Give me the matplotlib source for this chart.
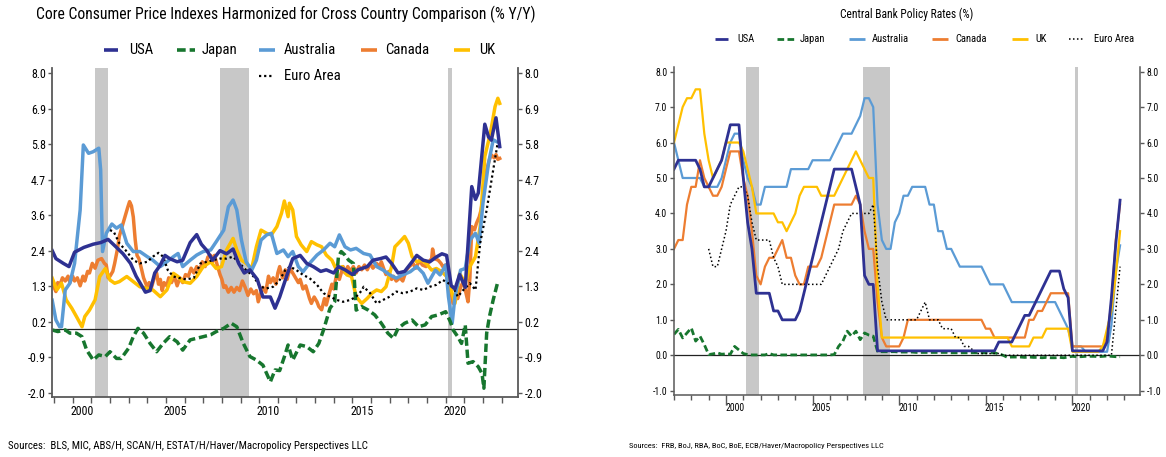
import numpy as np
import matplotlib
matplotlib.use("Agg")
import matplotlib.pyplot as plt
from matplotlib import font_manager as fm
from matplotlib.lines import Line2D
from matplotlib.ticker import FormatStrFormatter

# ====================== DATA ======================
# Left chart: core CPI, % y/y  (decimal year, value)
cpi_usa = [(1998.9,2.45),(1999.1,2.2),(1999.5,2.05),(1999.8,1.95),(2000.1,2.4),(2000.6,2.55),(2001.1,2.65),(2001.5,2.7),
    (2001.9,2.8),(2002.35,2.55),(2002.7,2.35),(2003.1,2.05),(2003.4,1.65),(2003.9,1.15),(2004.15,1.2),(2004.4,1.75),
    (2004.7,2.0),(2004.95,2.3),(2005.2,2.2),(2005.6,2.1),(2005.9,2.15),(2006.3,2.7),(2006.65,2.95),(2006.9,2.65),
    (2007.2,2.45),(2007.5,2.15),(2007.9,2.45),(2008.25,2.35),(2008.6,2.5),(2008.9,2.05),(2009.2,1.75),(2009.5,1.85),
    (2009.9,1.55),(2010.2,1.0),(2010.6,1.0),(2010.85,0.65),(2011.1,1.0),(2011.5,1.7),(2011.8,2.2),(2012.2,2.3),
    (2012.55,2.05),(2012.9,1.95),(2013.3,1.8),(2013.6,1.85),(2014.0,1.75),(2014.25,1.95),(2014.6,1.85),(2015.0,1.7),
    (2015.3,1.85),(2015.8,1.95),(2016.1,2.15),(2016.5,2.2),(2016.8,2.25),(2017.1,2.05),(2017.45,1.75),(2017.8,1.8),
    (2018.2,2.1),(2018.45,2.3),(2018.8,2.15),(2019.15,2.1),(2019.5,2.25),(2019.8,2.35),(2020.05,2.3),(2020.3,1.35),
    (2020.5,1.25),(2020.75,1.7),(2021.05,1.3),(2021.4,4.45),(2021.6,4.05),(2021.75,4.25),(2022.1,6.4),(2022.3,6.0),
    (2022.45,5.9),(2022.7,6.6),(2022.9,5.7)]
cpi_japan = [(1998.9,-0.03),(1999.2,-0.08),(1999.6,-0.03),(1999.85,-0.13),(2000.2,-0.13),(2000.5,-0.24),(2000.75,-0.66),
    (2001.1,-0.97),(2001.4,-0.81),(2001.75,-0.86),(2002.0,-0.71),(2002.35,-0.92),(2002.6,-0.92),(2003.0,-0.6),
    (2003.25,-0.24),(2003.5,0.02),(2003.8,-0.13),(2004.15,-0.45),(2004.5,-0.71),(2004.85,-0.45),(2005.2,-0.24),
    (2005.6,-0.4),(2005.9,-0.66),(2006.3,-0.34),(2006.65,-0.29),(2007.0,-0.24),(2007.4,-0.18),(2007.7,-0.08),
    (2008.1,0.02),(2008.5,0.18),(2008.8,0.07),(2009.15,-0.45),(2009.5,-0.86),(2009.85,-0.97),(2010.2,-1.13),
    (2010.6,-1.65),(2010.85,-1.28),(2011.1,-1.3),(2011.35,-0.87),(2011.55,-0.5),(2011.8,-0.97),(2012.2,-0.5),
    (2012.55,-0.55),(2012.9,-0.71),(2013.2,-0.45),(2013.45,-0.03),(2013.8,0.65),(2014.05,0.85),(2014.25,2.26),
    (2014.4,2.42),(2014.6,2.31),(2014.8,2.15),(2015.05,2.05),(2015.2,0.59),(2015.5,0.7),(2015.85,0.59),(2016.2,0.44),
    (2016.55,0.18),(2016.9,-0.13),(2017.2,-0.29),(2017.45,0.02),(2017.8,0.18),(2018.2,0.28),(2018.55,0.07),
    (2018.9,0.13),(2019.25,0.39),(2019.6,0.44),(2020.0,0.54),(2020.25,0.23),(2020.4,-0.03),(2020.65,-0.24),
    (2020.85,-0.45),(2021.05,0.13),(2021.2,-1.07),(2021.47,-1.02),(2021.75,-1.18),(2021.95,-1.39),(2022.05,-1.85),
    (2022.2,-0.13),(2022.35,0.39),(2022.55,0.91),(2022.8,1.48)]
cpi_australia = [(1998.9,0.9),(1999.1,0.28),(1999.3,0.07),(1999.4,0.07),(1999.6,1.22),(1999.85,1.43),(2000.1,2.05),
    (2000.4,3.72),(2000.57,5.75),(2000.85,5.49),(2001.1,5.54),(2001.4,5.65),(2001.5,4.97),(2001.6,2.42),(2001.8,2.99),
    (2002.1,3.28),(2002.35,3.15),(2002.6,3.25),(2002.9,2.68),(2003.25,2.42),(2003.6,2.42),(2004.0,2.26),(2004.3,2.15),
    (2004.7,1.95),(2005.05,2.1),(2005.4,2.26),(2005.65,2.36),(2005.9,1.95),(2006.3,2.15),(2006.65,2.31),(2007.0,2.42),
    (2007.4,2.47),(2007.7,2.73),(2008.1,3.09),(2008.35,3.82),(2008.6,4.03),(2008.8,3.72),(2009.05,2.78),(2009.3,2.1),
    (2009.6,1.84),(2009.85,2.15),(2010.1,2.78),(2010.4,2.94),(2010.65,2.99),(2010.95,2.36),(2011.3,2.47),(2011.55,2.26),
    (2011.8,2.42),(2012.1,1.95),(2012.35,1.79),(2012.7,2.05),(2013.1,2.31),(2013.45,2.47),(2013.8,2.68),(2014.05,2.57),
    (2014.3,2.94),(2014.6,2.57),(2014.9,2.47),(2015.2,2.52),(2015.6,2.36),(2015.95,2.31),(2016.3,1.95),(2016.65,1.84),
    (2017.0,1.69),(2017.35,1.59),(2017.7,1.69),(2018.1,1.79),(2018.45,1.95),(2018.8,1.74),(2019.05,1.43),(2019.45,1.84),
    (2019.7,1.69),(2020.0,2.0),(2020.15,1.01),(2020.35,0.18),(2020.5,1.01),(2020.8,1.84),(2021.05,1.89),(2021.3,2.78),
    (2021.6,2.99),(2021.8,2.68),(2022.0,3.93),(2022.3,5.18),(2022.55,5.91),(2022.75,5.85)]
cpi_canada = [(1998.9,1.53),(1999.0,1.3),(1999.1,1.17),(1999.2,1.45),(1999.3,1.35),(1999.45,1.6),(1999.6,1.5),
    (1999.75,1.65),(1999.85,1.45),(2000.0,1.65),(2000.1,1.5),(2000.25,1.6),(2000.4,1.35),(2000.55,1.65),(2000.65,1.5),
    (2000.8,1.8),(2000.9,1.75),(2001.05,2.05),(2001.2,1.9),(2001.35,2.15),(2001.55,2.2),(2001.7,2.05),(2001.8,2.0),
    (2001.9,1.6),(2002.0,1.65),(2002.15,1.8),(2002.25,2.05),(2002.4,2.5),(2002.5,2.9),(2002.65,3.2),(2002.8,3.5),
    (2002.95,3.8),(2003.05,3.98),(2003.15,3.85),(2003.25,3.5),(2003.35,2.8),(2003.45,2.3),(2003.55,2.2),(2003.7,1.85),
    (2003.8,1.6),(2003.9,1.45),(2004.0,1.3),(2004.1,1.45),(2004.2,1.25),(2004.35,1.55),(2004.5,1.75),(2004.6,1.4),
    (2004.7,1.55),(2004.8,1.2),(2004.9,1.45),(2005.05,1.35),(2005.15,1.6),(2005.3,1.45),(2005.45,1.65),(2005.6,1.35),
    (2005.75,1.6),(2005.9,1.45),(2006.05,1.7),(2006.2,1.65),(2006.35,1.9),(2006.5,1.75),(2006.65,1.95),(2006.8,1.8),
    (2006.95,2.1),(2007.1,1.95),(2007.25,2.25),(2007.4,2.3),(2007.5,2.1),(2007.6,2.3),(2007.75,2.0),(2007.9,1.7),
    (2008.0,1.55),(2008.1,1.3),(2008.2,1.35),(2008.35,1.15),(2008.5,1.3),(2008.65,1.15),(2008.8,1.3),(2008.95,1.2),
    (2009.1,1.5),(2009.25,1.3),(2009.4,1.05),(2009.55,1.25),(2009.7,1.1),(2009.85,1.2),(2009.95,0.85),(2010.1,1.15),
    (2010.2,1.3),(2010.35,1.15),(2010.5,1.65),(2010.6,1.45),(2010.75,1.6),(2010.9,1.4),(2011.0,1.75),(2011.1,1.95),
    (2011.25,1.6),(2011.4,1.85),(2011.5,1.55),(2011.65,1.9),(2011.8,1.75),(2011.95,1.6),(2012.1,1.45),(2012.2,1.55),
    (2012.35,1.25),(2012.5,1.35),(2012.6,1.15),(2012.7,0.95),(2012.8,0.8),(2012.95,1.0),(2013.1,0.85),(2013.2,0.7),
    (2013.35,0.6),(2013.5,0.95),(2013.6,0.75),(2013.75,1.1),(2013.9,1.4),(2014.0,1.25),(2014.15,1.7),(2014.3,1.55),
    (2014.5,1.95),(2014.6,1.75),(2014.75,1.95),(2014.9,1.8),(2015.05,1.95),(2015.2,1.75),(2015.35,1.95),(2015.5,1.85),
    (2015.65,2.0),(2015.8,1.85),(2015.95,2.05),(2016.1,1.9),(2016.3,2.05),(2016.45,1.95),(2016.55,2.1),(2016.7,1.85),
    (2016.8,1.7),(2016.95,1.8),(2017.1,1.55),(2017.2,1.65),(2017.35,1.5),(2017.55,1.6),(2017.7,1.5),(2017.9,1.85),
    (2018.05,1.95),(2018.25,2.05),(2018.4,1.9),(2018.6,2.15),(2018.75,2.0),(2018.95,1.95),(2019.1,2.1),(2019.25,2.2),
    (2019.3,2.5),(2019.4,2.2),(2019.6,2.15),(2019.75,2.05),(2019.85,1.95),(2020.0,2.0),(2020.15,1.7),(2020.3,1.1),
    (2020.4,0.8),(2020.55,1.0),(2020.65,0.95),(2020.8,1.3),(2020.95,1.5),(2021.1,1.1),(2021.2,0.85),(2021.3,1.6),
    (2021.4,3.2),(2021.55,3.1),(2021.65,3.3),(2021.8,3.5),(2021.9,3.72),(2022.05,4.3),(2022.2,4.97),(2022.35,5.3),
    (2022.45,5.44),(2022.6,5.35),(2022.7,5.45),(2022.8,5.3),(2022.9,5.33)]
cpi_uk = [(1998.9,1.59),(1999.15,1.22),(1999.4,1.43),(1999.65,0.91),(1999.95,0.65),(2000.2,0.39),(2000.5,0.07),
    (2000.65,0.39),(2000.9,0.59),(2001.2,0.91),(2001.45,1.64),(2001.75,1.89),(2002.0,1.53),(2002.25,1.43),(2002.5,1.48),
    (2002.9,1.64),(2003.25,1.48),(2003.6,1.32),(2004.0,1.27),(2004.3,1.22),(2004.7,1.01),(2005.05,1.22),(2005.4,1.74),
    (2005.65,1.64),(2005.9,1.48),(2006.3,1.43),(2006.65,1.64),(2007.0,1.95),(2007.4,2.1),(2007.7,1.89),(2007.98,1.95),
    (2008.25,2.47),(2008.6,2.83),(2008.8,2.47),(2009.05,2.15),(2009.3,2.05),(2009.6,1.89),(2009.85,2.57),(2010.1,3.09),
    (2010.4,2.99),(2010.65,2.94),(2010.95,3.2),(2011.2,3.62),(2011.35,4.0),(2011.55,3.51),(2011.62,3.93),(2011.8,3.72),
    (2012.0,2.89),(2012.25,2.63),(2012.55,2.42),(2012.8,2.73),(2013.1,2.63),(2013.35,2.57),(2013.6,2.31),(2013.9,2.15),
    (2014.15,1.84),(2014.45,1.95),(2014.7,1.69),(2014.95,1.64),(2015.2,1.01),(2015.5,0.8),(2015.8,0.96),(2016.05,1.12),
    (2016.3,1.22),(2016.55,1.17),(2016.8,1.32),(2017.1,1.95),(2017.28,2.57),(2017.55,2.73),(2017.8,2.89),(2018.0,2.68),
    (2018.2,2.26),(2018.45,2.1),(2018.7,2.15),(2018.95,2.05),(2019.25,1.84),(2019.5,1.89),(2019.8,1.79),(2020.05,1.64),
    (2020.3,1.22),(2020.5,0.8),(2020.75,1.74),(2021.05,1.43),(2021.3,1.95),(2021.6,2.26),(2021.85,3.2),(2022.1,5.39),
    (2022.4,6.12),(2022.65,6.95),(2022.8,7.21),(2022.9,7.05)]
cpi_euro = [(2002.0,3.09),(2002.2,3.04),(2002.5,2.68),(2002.9,2.42),(2003.25,2.15),(2003.6,2.05),(2004.0,2.1),(2004.3,2.26),
    (2004.6,2.38),(2004.85,2.26),(2005.1,1.84),(2005.4,1.64),(2005.75,1.59),(2006.1,1.55),(2006.5,1.6),(2006.85,2.05),
    (2007.2,2.1),(2007.5,2.15),(2007.9,2.2),(2008.25,2.2),(2008.6,2.26),(2008.95,2.05),(2009.3,1.84),(2009.7,1.64),
    (2010.05,1.32),(2010.4,1.27),(2010.75,1.32),(2011.1,1.53),(2011.4,1.84),(2011.65,1.95),(2012.0,1.84),(2012.35,1.69),
    (2012.7,1.59),(2013.1,1.38),(2013.45,1.12),(2013.8,1.01),(2014.15,0.91),(2014.5,0.85),(2014.9,0.91),(2015.2,1.01),
    (2015.5,1.2),(2015.6,1.32),(2015.95,1.12),(2016.3,0.8),(2016.65,0.91),(2017.0,1.01),(2017.35,1.17),(2017.7,1.12),
    (2018.1,1.17),(2018.45,1.27),(2018.8,1.22),(2019.15,1.32),(2019.5,1.38),(2019.85,1.53),(2020.15,1.43),(2020.4,1.32),
    (2020.65,1.01),(2020.95,1.22),(2021.3,1.43),(2021.6,1.22),(2021.85,2.68),(2022.2,3.72),(2022.55,4.97),(2022.8,5.85)]

# Right chart: policy rates, quarterly (end of quarter), 1997Q1 .. 2022Q4
rate_quarters = np.arange(1997.0, 2023.0, 0.25)
rate_usa = [5.25,5.5,5.5,5.5, 5.5,5.5,5.25,4.75, 4.75,5.0,5.25,5.5, 6.0,6.5,6.5,6.5, 5.0,3.75,3.0,1.75,
    1.75,1.75,1.75,1.25, 1.25,1.0,1.0,1.0, 1.0,1.25,1.75,2.25, 2.75,3.25,3.75,4.25, 4.75,5.25,5.25,5.25,
    5.25,5.25,4.75,4.25, 2.25,2.0,2.0,0.125, 0.125,0.125,0.125,0.125, 0.125,0.125,0.125,0.125,
    0.125,0.125,0.125,0.125, 0.125,0.125,0.125,0.125, 0.125,0.125,0.125,0.125, 0.125,0.125,0.125,0.125,
    0.125,0.125,0.125,0.375, 0.375,0.375,0.375,0.625, 0.875,1.125,1.125,1.375, 1.625,1.875,2.125,2.375,
    2.375,2.375,1.875,1.625, 0.125,0.125,0.125,0.125, 0.125,0.125,0.125,0.125, 0.375,1.625,3.125,4.375]
rate_japan = [0.59,0.73,0.49,0.63, 0.77,0.40,0.54,0.30, 0.02,0.04,0.07,0.03, 0.04,0.03,0.25,0.15, 0.05,0.02,0.01,0.01,
    0.01,0.01,0.05,0.01, 0.01,0.01,0.01,0.01, 0.01,0.01,0.01,0.01, 0.01,0.01,0.01,0.01, 0.01,0.02,0.25,0.40,
    0.68,0.54,0.68,0.44, 0.63,0.57,0.54,0.11, 0.10,0.10,0.10,0.10, 0.09,0.09,0.09,0.09, 0.08,0.08,0.08,0.08,
    0.08,0.08,0.08,0.08, 0.07,0.07,0.07,0.07, 0.07,0.07,0.07,0.07, 0.07,0.07,0.07,0.04, 0.0,-0.06,-0.05,-0.05,
    -0.05,-0.06,-0.05,-0.06, -0.06,-0.07,-0.06,-0.07, -0.07,-0.06,-0.07,-0.05, -0.03,-0.04,-0.04,-0.03,
    -0.03,-0.03,-0.04,-0.03, -0.02,-0.03,-0.04,-0.04]
rate_australia = [6.0,5.5,5.0,5.0, 5.0,5.0,5.0,4.75, 4.75,4.75,4.75,5.0, 5.5,6.0,6.25,6.25, 5.5,5.0,4.75,4.25,
    4.25,4.75,4.75,4.75, 4.75,4.75,4.75,5.25, 5.25,5.25,5.25,5.25, 5.5,5.5,5.5,5.5, 5.5,5.75,6.0,6.25,
    6.25,6.25,6.5,6.75, 7.25,7.25,7.0,4.25, 3.25,3.0,3.0,3.75, 4.0,4.5,4.5,4.75, 4.75,4.75,4.75,4.25,
    4.25,3.5,3.5,3.0, 3.0,2.75,2.5,2.5, 2.5,2.5,2.5,2.5, 2.25,2.0,2.0,2.0, 2.0,1.75,1.5,1.5,
    1.5,1.5,1.5,1.5, 1.5,1.5,1.5,1.5, 1.5,1.25,1.0,0.75, 0.25,0.25,0.25,0.1, 0.1,0.1,0.1,0.1, 0.1,0.85,2.35,3.1]
rate_canada = [3.0,3.25,3.25,4.25, 4.75,4.75,5.5,5.0, 4.75,4.5,4.5,4.75, 5.25,5.75,5.75,5.75, 5.0,4.5,3.5,2.25,
    2.0,2.5,2.75,2.75, 3.0,3.25,2.75,2.75, 2.25,2.0,2.0,2.5, 2.5,2.5,2.75,3.25, 3.75,4.25,4.25,4.25,
    4.25,4.25,4.5,4.25, 3.5,3.0,3.0,1.5, 0.5,0.25,0.25,0.25, 0.25,0.5,1.0,1.0, 1.0,1.0,1.0,1.0,
    1.0,1.0,1.0,1.0, 1.0,1.0,1.0,1.0, 1.0,1.0,1.0,1.0, 0.75,0.75,0.5,0.5, 0.5,0.5,0.5,0.5,
    0.5,0.5,1.0,1.0, 1.25,1.25,1.5,1.75, 1.75,1.75,1.75,1.75, 0.25,0.25,0.25,0.25, 0.25,0.25,0.25,0.25,
    0.5,1.5,3.25,4.25]
rate_uk = [6.0,6.5,7.0,7.25, 7.25,7.5,7.5,6.25, 5.5,5.0,5.25,5.5, 6.0,6.0,6.0,6.0, 5.75,5.25,4.75,4.0,
    4.0,4.0,4.0,4.0, 3.75,3.75,3.5,3.75, 4.0,4.5,4.75,4.75, 4.75,4.75,4.5,4.5, 4.5,4.5,4.75,5.0,
    5.25,5.5,5.75,5.5, 5.25,5.0,5.0,2.0, 0.5,0.5,0.5,0.5, 0.5,0.5,0.5,0.5, 0.5,0.5,0.5,0.5,
    0.5,0.5,0.5,0.5, 0.5,0.5,0.5,0.5, 0.5,0.5,0.5,0.5, 0.5,0.5,0.5,0.5, 0.5,0.5,0.25,0.25,
    0.25,0.25,0.25,0.5, 0.5,0.5,0.75,0.75, 0.75,0.75,0.75,0.75, 0.1,0.1,0.1,0.1, 0.1,0.1,0.1,0.25,
    0.75,1.25,2.25,3.5]
rate_euro = [np.nan]*8 + [3.0,2.5,2.5,3.0, 3.5,4.25,4.5,4.75, 4.75,4.5,3.75,3.25, 3.25,3.25,3.25,2.75,
    2.5,2.0,2.0,2.0, 2.0,2.0,2.0,2.0, 2.0,2.0,2.0,2.25, 2.5,2.75,3.0,3.5, 3.75,4.0,4.0,4.0,
    4.0,4.0,4.25,2.5, 1.5,1.0,1.0,1.0, 1.0,1.0,1.0,1.0, 1.0,1.25,1.5,1.0, 1.0,1.0,0.75,0.75,
    0.75,0.5,0.5,0.25, 0.25,0.15,0.05,0.05, 0.05,0.05,0.05,0.05, 0.0,0.0,0.0,0.0, 0.0,0.0,0.0,0.0,
    0.0,0.0,0.0,0.0, 0.0,0.0,0.0,0.0, 0.0,0.0,0.0,0.0, 0.0,0.0,0.0,0.0, 0.0,0.0,1.25,2.5]

recessions = [(2001.17, 2001.88), (2007.92, 2009.46), (2020.12, 2020.33)]
series_names = ["USA", "Japan", "Australia", "Canada", "UK", "Euro Area"]

title_left = "Core Consumer Price Indexes Harmonized for Cross Country Comparison (% Y/Y)"
title_right = "Central Bank Policy Rates (%)"
source_left = "Sources:  BLS, MIC, ABS/H, SCAN/H, ESTAT/H/Haver/Macropolicy Perspectives LLC"
source_right = "Sources:  FRB, BoJ, RBA, BoC, BoE, ECB/Haver/Macropolicy Perspectives LLC"

# ====================== STYLE ======================
avail = {f.name for f in fm.fontManager.ttflist}
FONT = next((f for f in ["Liberation Sans Narrow", "Roboto Condensed", "Open Sans Condensed",
                         "Liberation Sans", "DejaVu Sans"] if f in avail), "DejaVu Sans")
plt.rcParams["font.family"] = [FONT, "DejaVu Sans"]
plt.rcParams["axes.unicode_minus"] = False

NAVY, GREEN, LBLUE, ORANGE, YELLOW, BLACK = "#2E3192", "#17762E", "#5B9BD5", "#ED7D31", "#FFC000", "#000000"
SHADE = "#C8C8C8"
SPINE = "#595959"

W, H, DPI = 1166, 457, 100
fig = plt.figure(figsize=(W / DPI, H / DPI), dpi=DPI)
renderer = fig.canvas.get_renderer()

def fx(x): return x / W
def fy(y): return 1 - y / H

def fitted_size(s, width_px, base=10.0):
    t = fig.text(0, 0, s, fontsize=base)
    w = t.get_window_extent(renderer).width
    t.remove()
    return base * width_px / w

def px_axes(x0, y0, x1, y1):
    return fig.add_axes([fx(x0), fy(y1), (x1 - x0) / W, (y1 - y0) / H])

def style_axes(ax, lw, tick_fs, ypad):
    for s in ["left", "right", "bottom"]:
        ax.spines[s].set_color(SPINE)
        ax.spines[s].set_linewidth(lw)
    ax.spines["top"].set_visible(False)
    ax.tick_params(axis="y", which="both", left=True, right=True, labelleft=True, labelright=True,
                   direction="out", length=3, width=1, color=SPINE, pad=ypad, labelsize=tick_fs)
    ax.yaxis.set_major_formatter(FormatStrFormatter("%.1f"))

def xy(pairs):
    arr = np.array(pairs)
    return arr[:, 0], arr[:, 1]

# ====================== LEFT CHART ======================
axL = px_axes(52, 68, 518, 397)
axL.set_xlim(1998.89, 2023.88)
axL.set_ylim(-2.125, 8.156)
for a, b in recessions:
    axL.axvspan(a, b, color=SHADE, lw=0, zorder=0.5)
axL.axhline(0, color="#222222", lw=0.9, zorder=1)

LW = 2.5
axL.plot(*xy(cpi_canada), color=ORANGE, lw=LW, zorder=2, solid_joinstyle="round")
axL.plot(*xy(cpi_uk), color=YELLOW, lw=LW, zorder=2.1, solid_joinstyle="round")
axL.plot(*xy(cpi_australia), color=LBLUE, lw=LW, zorder=2.2, solid_joinstyle="round")
axL.plot(*xy(cpi_japan), color=GREEN, lw=LW, ls=(0, (2.4, 1.1)), zorder=2.3)
axL.plot(*xy(cpi_euro), color=BLACK, lw=1.6, ls=(0, (1, 1.3)), zorder=2.4)
axL.plot(*xy(cpi_usa), color=NAVY, lw=LW, zorder=2.5, solid_joinstyle="round")

style_axes(axL, 1.3, 8.6, 1.5)
axL.set_yticks(np.linspace(-2, 8, 10))
axL.set_xticks(np.arange(1999, 2024), minor=True)
axL.set_xticks([2000.5, 2005.5, 2010.5, 2015.5, 2020.5], ["2000", "2005", "2010", "2015", "2020"])
axL.tick_params(axis="x", which="minor", length=4, width=1, color=SPINE, direction="out")
axL.tick_params(axis="x", which="major", length=0, pad=6, labelsize=8.6)

# ====================== RIGHT CHART ======================
axR = px_axes(674, 67, 1140, 395)
axR.set_xlim(1997.0, 2023.9)
axR.set_ylim(-1.12, 8.13)
for a, b in recessions:
    axR.axvspan(a, b, color=SHADE, lw=0, zorder=0.5)
axR.axhline(0, color="#222222", lw=0.9, zorder=1)

LWR = 1.6
axR.plot(rate_quarters, rate_japan, color=GREEN, lw=2.0, ls=(0, (2.4, 1.2)), zorder=2)
axR.plot(rate_quarters, rate_australia, color=LBLUE, lw=LWR, zorder=2.1)
axR.plot(rate_quarters, rate_canada, color=ORANGE, lw=LWR, zorder=2.2)
axR.plot(rate_quarters, rate_uk, color=YELLOW, lw=LWR, zorder=2.3)
axR.plot(rate_quarters, rate_euro, color=BLACK, lw=1.1, ls=(0, (1, 1.6)), zorder=2.4)
axR.plot(rate_quarters, rate_usa, color=NAVY, lw=2.0, zorder=2.5)

style_axes(axR, 1.1, 7.0, 1.8)
axR.set_yticks(np.arange(-1, 9, 1.0))
axR.set_xticks(np.arange(1997, 2024), minor=True)
axR.set_xticks(np.arange(2000, 2021, 5))
axR.tick_params(axis="x", which="minor", length=3.5, width=1, color=SPINE, direction="out")
axR.tick_params(axis="x", which="major", length=7, width=1, color=SPINE, direction="out", labelbottom=False)
secR = axR.secondary_xaxis("bottom")
secR.set_xticks([2000.5, 2005.5, 2010.5, 2015.5, 2020.5], ["2000", "2005", "2010", "2015", "2020"])
secR.tick_params(axis="x", length=0, pad=6, labelsize=7.0)
secR.spines["bottom"].set_visible(False)

# ====================== TEXT: titles, legends, sources ======================
fig.text(fx(285.5), fy(14), title_left, ha="center", va="center", fontsize=fitted_size(title_left, 498))
fig.text(fx(907), fy(14), title_right, ha="center", va="center", fontsize=fitted_size(title_right, 133))

colors = [NAVY, GREEN, LBLUE, ORANGE, YELLOW, BLACK]

def legend_entry(xh0, xh1, xt, y, label, color, ls, lw, fs):
    fig.add_artist(Line2D([fx(xh0), fx(xh1)], [fy(y), fy(y)], transform=fig.transFigure, color=color,
                          lw=lw, ls=ls, solid_capstyle="butt", dash_capstyle="butt"))
    fig.text(fx(xt), fy(y), label, fontsize=fs, ha="left", va="center")

fsL = fitted_size("Australia", 52)
left_leg = [(104, 118, 129, 50), (177, 195, 202, 50), (259, 275, 284, 50), (361, 377, 385, 50),
            (454, 470, 479, 50), (259, 273, 284, 76)]
for (h0, h1, tx, yy), name, c in zip(left_leg, series_names, colors):
    ls = "-" if name not in ("Japan", "Euro Area") else ((0, (2.4, 1.1)) if name == "Japan" else (0, (1, 1.3)))
    lw = 1.6 if name == "Euro Area" else 2.6
    legend_entry(h0, h1, tx, yy, name, c, ls, lw, fsL)

fsR = fitted_size("Australia", 37)
right_leg = [(715, 728, 737, 39), (777, 795, 800, 39), (849, 865, 871.5, 39), (932, 948, 955.6, 39),
             (1011.5, 1028, 1035, 39), (1069, 1084, 1094, 39)]
for (h0, h1, tx, yy), name, c in zip(right_leg, series_names, colors):
    ls = "-" if name not in ("Japan", "Euro Area") else ((0, (2.4, 1.2)) if name == "Japan" else (0, (1, 1.6)))
    lw = 1.1 if name == "Euro Area" else 2.0
    legend_entry(h0, h1, tx, yy, name, c, ls, lw, fsR)

fig.text(fx(8), fy(446), source_left, ha="left", va="center", fontsize=fitted_size(source_left, 360))
fig.text(fx(629), fy(446), source_right, ha="left", va="center", fontsize=fitted_size(source_right, 256))

fig.savefig("out.png", dpi=DPI, facecolor="white")
